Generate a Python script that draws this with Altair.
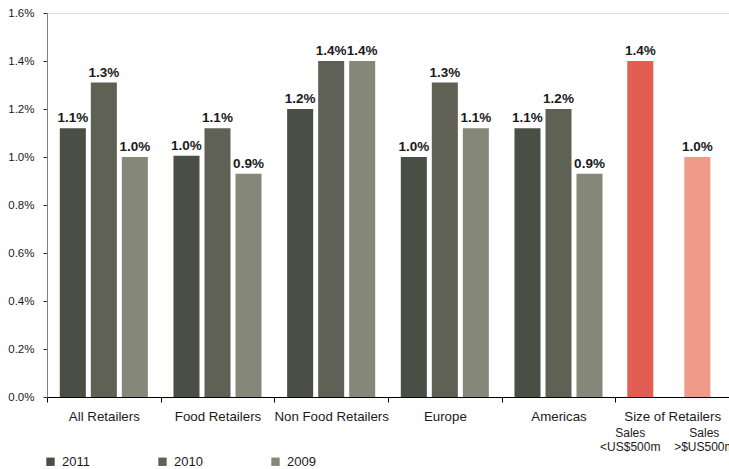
import altair as alt
import pandas as pd

categories = ["All Retailers", "Food Retailers", "Non Food Retailers", "Europe", "Americas"]
size_category = "Size of Retailers"
years = ["2011", "2010", "2009"]
v2011 = [0.0112, 0.01005, 0.0120, 0.0100, 0.0112]
v2010 = [0.0131, 0.0112, 0.0140, 0.0131, 0.0120]
v2009 = [0.0100, 0.0093, 0.0140, 0.0112, 0.0093]
size_series = ["Small", "Large"]
size_values = [0.0140, 0.0100]
size_sublabels = ["Sales\n<US$500m", "Sales\n>$US500m"]
y_ticks = [0.0, 0.002, 0.004, 0.006, 0.008, 0.010, 0.012, 0.014, 0.016]

colors = ["#4a4e44", "#5f6154", "#858879", "#e35e52", "#f09a8a"]
all_cats = categories + [size_category]

rows = []
for yr, vals in zip(years, [v2011, v2010, v2009]):
    for c, v in zip(categories, vals):
        rows.append({"category": c, "series": yr, "value": v})
main_df = pd.DataFrame(rows)
size_df = pd.DataFrame({
    "category": [size_category] * 2,
    "series": size_series,
    "value": size_values,
    "sub": size_sublabels,
})

FONT = "Liberation Sans"
x_enc = alt.X("category:N", sort=all_cats,
              scale=alt.Scale(domain=all_cats, paddingInner=0, paddingOuter=0),
              axis=alt.Axis(title=None, labelAngle=0, labelFontSize=13.3, labelColor="#1a1a1a",
                            labelFont=FONT, domainColor="#000000", tickColor="#000000",
                            tickBand="extent", tickSize=5, labelPadding=7,
                            labelLimit=200))
y_enc = alt.Y("value:Q",
              scale=alt.Scale(domain=[0, 0.016], nice=False),
              axis=alt.Axis(title=None, format=".1%", values=y_ticks, grid=False,
                            labelFontSize=11.5, labelColor="#1a1a1a", labelFont=FONT,
                            domainColor="#808080", tickColor="#333333", tickSize=4,
                            labelPadding=9))
color_enc = alt.Color("series:N",
                      scale=alt.Scale(domain=years + size_series, range=colors),
                      legend=alt.Legend(values=years, title=None, orient="none",
                                        legendX=-3, legendY=442, direction="horizontal",
                                        columns=3, columnPadding=66, symbolType="square",
                                        symbolSize=70, symbolStrokeWidth=0, labelFontSize=13,
                                        labelFont=FONT, labelColor="#1a1a1a", labelOffset=5,
                                        padding=0))

main_off = alt.XOffset("series:N", sort=years,
                       scale=alt.Scale(domain=years, paddingInner=0.161, paddingOuter=0.413))
size_off = alt.XOffset("series:N", sort=size_series,
                       scale=alt.Scale(domain=size_series, paddingInner=0.544,
                                       paddingOuter=0.268, align=0.39))

main_base = alt.Chart(main_df).encode(x=x_enc, xOffset=main_off, y=y_enc)
main_bars = main_base.mark_bar().encode(color=color_enc)
main_text = main_base.mark_text(baseline="alphabetic", dy=-6, fontSize=13.5, fontWeight="bold",
                                font=FONT, color="#1a1a1a").encode(
    text=alt.Text("value:Q", format=".1%"))

size_base = alt.Chart(size_df).encode(x=x_enc, xOffset=size_off, y=y_enc)
size_bars = size_base.mark_bar().encode(color=color_enc)
size_text = size_base.mark_text(baseline="alphabetic", dy=-6, fontSize=13.5, fontWeight="bold",
                                font=FONT, color="#1a1a1a").encode(
    text=alt.Text("value:Q", format=".1%"))
sub_base = alt.Chart(size_df).encode(x=x_enc, xOffset=size_off, y=alt.value(424),
                                     text="sub:N")
sub1 = sub_base.transform_filter(alt.datum.series == "Small").mark_text(
    baseline="alphabetic", align="center", dx=-10, fontSize=12, font=FONT,
    color="#1a1a1a", lineBreak="\n", lineHeight=14)
sub2 = sub_base.transform_filter(alt.datum.series == "Large").mark_text(
    baseline="alphabetic", align="center", dx=7, fontSize=12, font=FONT,
    color="#1a1a1a", lineBreak="\n", lineHeight=14)

main_layer = alt.layer(main_bars, main_text)
size_layer = alt.layer(size_bars, size_text, sub1, sub2)

chart = alt.layer(main_layer, size_layer).resolve_scale(xOffset="independent").properties(
    width=682, height=384,
    autosize=alt.AutoSizeParams(type="none"),
    padding={"left": 47, "top": 13, "right": 0, "bottom": 72},
).configure_view(stroke=None).configure(background="white")

chart.save("out.html", embed_options={"renderer": "svg", "actions": False})
